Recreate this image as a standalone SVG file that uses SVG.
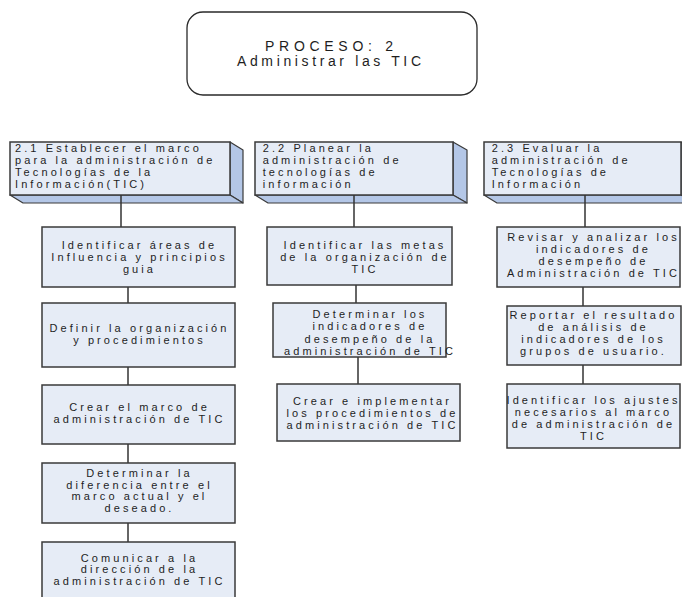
<svg xmlns="http://www.w3.org/2000/svg" width="682" height="597" viewBox="0 0 682 597">
<style>
.bg{fill:#ffffff}
.title{fill:#ffffff;stroke:#2a2a2a;stroke-width:1.3}
.box{fill:#E6ECF6;stroke:#3A3A3A;stroke-width:1.5}
.side{fill:#B4C7E7;stroke:#3A3A3A;stroke-width:1.2;stroke-linejoin:round}
.t{font-family:"Liberation Sans",Arial,sans-serif;font-size:11px;letter-spacing:3.1px;fill:#1E1E1E}
.tt{font-family:"Liberation Sans",Arial,sans-serif;font-size:14px;fill:#1E1E1E;text-anchor:middle}
.c{text-anchor:middle}
.conn{stroke:#333333;stroke-width:1.5;fill:none}
</style>
<rect class="bg" x="0" y="0" width="682" height="597"/>

<g id="proceso">
<rect class="title" x="187" y="12" width="290" height="83" rx="16" ry="16"/>
<text class="tt" x="329" y="50.7" textLength="128" lengthAdjust="spacing">PROCESO: 2</text>
<text class="tt" x="329" y="65.5" textLength="184" lengthAdjust="spacing">Administrar las TIC</text>
</g>

<g id="h21">
<polygon class="side" points="230,142 243,150 243,203 230,195"/>
<polygon class="side" points="10,195 23,203 243,203 230,195"/>
<rect class="box" x="10" y="142" width="220" height="53"/>
<text class="t" x="15" y="151.7">2.1 Establecer el marco</text>
<text class="t" x="15" y="164">para la administración de</text>
<text class="t" x="15" y="176">Tecnologías de la</text>
<text class="t" x="15" y="188">Información(TIC)</text>
</g>

<g id="h22">
<polygon class="side" points="453,142 467,150 467,203 453,195"/>
<polygon class="side" points="255,195 268,203 467,203 453,195"/>
<rect class="box" x="255" y="142" width="198" height="53"/>
<text class="t" x="262.7" y="151.7">2.2 Planear la</text>
<text class="t" x="262.7" y="164">administración de</text>
<text class="t" x="262.7" y="176">tecnologías de</text>
<text class="t" x="262.7" y="188">información</text>
</g>

<g id="h23">
<polygon class="side" points="681,142 695,150 695,203 681,195"/>
<polygon class="side" points="484,195 497,203 695,203 681,195"/>
<rect class="box" x="484" y="142" width="197" height="53"/>
<text class="t" x="491.7" y="151.7">2.3 Evaluar la</text>
<text class="t" x="491.7" y="164">administración de</text>
<text class="t" x="491.7" y="176">Tecnologías de</text>
<text class="t" x="491.7" y="188">Información</text>
</g>

<g id="connectors">
<line class="conn" x1="121" y1="195" x2="121" y2="227"/>
<line class="conn" x1="128" y1="287" x2="128" y2="303"/>
<line class="conn" x1="128" y1="367" x2="128" y2="385"/>
<line class="conn" x1="128" y1="444" x2="128" y2="463"/>
<line class="conn" x1="128" y1="523" x2="128" y2="542"/>
<line class="conn" x1="354" y1="195" x2="354" y2="227"/>
<line class="conn" x1="356" y1="285" x2="356" y2="303"/>
<line class="conn" x1="358" y1="357" x2="358" y2="384"/>
<line class="conn" x1="585" y1="195" x2="585" y2="227"/>
<line class="conn" x1="583" y1="287" x2="583" y2="306"/>
<line class="conn" x1="583" y1="365" x2="583" y2="384"/>
</g>

<g id="c1b1">
<rect class="box" x="42" y="227" width="193" height="60"/>
<text class="t c" x="139.5" y="249.3">Identificar áreas de</text>
<text class="t c" x="139.5" y="261">Influencia y principios</text>
<text class="t c" x="139.5" y="272.7">guia</text>
</g>
<g id="c1b2">
<rect class="box" x="42" y="303" width="193" height="64"/>
<text class="t c" x="139.5" y="331.7">Definir la organización</text>
<text class="t c" x="139.5" y="344">y procedimientos</text>
</g>
<g id="c1b3">
<rect class="box" x="42" y="385" width="193" height="59"/>
<text class="t c" x="139.5" y="410.7">Crear el marco de</text>
<text class="t c" x="139.5" y="422.9">administración de TIC</text>
</g>
<g id="c1b4">
<rect class="box" x="42" y="463" width="193" height="60"/>
<text class="t c" x="139.5" y="476.7">Determinar la</text>
<text class="t c" x="139.5" y="488.5">diferencia entre el</text>
<text class="t c" x="139.5" y="500.3">marco actual y el</text>
<text class="t c" x="139.5" y="512.3">deseado.</text>
</g>
<g id="c1b5">
<rect class="box" x="42" y="542" width="193" height="58"/>
<text class="t c" x="139.5" y="561.5">Comunicar a la</text>
<text class="t c" x="139.5" y="573.4">dirección de la</text>
<text class="t c" x="139.5" y="585.3">administración de TIC</text>
</g>

<g id="c2b1">
<rect class="box" x="267" y="227" width="185" height="58"/>
<text class="t c" x="365" y="249.3">Identificar las metas</text>
<text class="t c" x="365" y="261">de la organización de</text>
<text class="t c" x="365" y="272.7">TIC</text>
</g>
<g id="c2b2">
<rect class="box" x="273" y="303" width="173" height="54"/>
<text class="t c" x="370" y="318.3">Determinar los</text>
<text class="t c" x="370" y="330.3">indicadores de</text>
<text class="t c" x="370" y="342.6">desempeño de la</text>
<text class="t c" x="370" y="355">administración de TIC</text>
</g>
<g id="c2b3">
<rect class="box" x="277" y="384" width="183" height="57"/>
<text class="t c" x="372.5" y="405">Crear e implementar</text>
<text class="t c" x="372.5" y="416.8">los procedimientos de</text>
<text class="t c" x="372.5" y="428.6">administración de TIC</text>
</g>

<g id="c3b1">
<rect class="box" x="497" y="227" width="183" height="60"/>
<text class="t c" x="593.5" y="240.7">Revisar y analizar los</text>
<text class="t c" x="593.5" y="252.9">indicadores de</text>
<text class="t c" x="593.5" y="265.1">desempeño de</text>
<text class="t c" x="593.5" y="277.3">Administración de TIC</text>
</g>
<g id="c3b2">
<rect class="box" x="507" y="306" width="174" height="59"/>
<text class="t c" x="593.5" y="319.3">Reportar el resultado</text>
<text class="t c" x="593.5" y="331.2">de análisis de</text>
<text class="t c" x="593.5" y="343.2">indicadores de los</text>
<text class="t c" x="593.5" y="355.2">grupos de usuario.</text>
</g>
<g id="c3b3">
<rect class="box" x="507" y="384" width="173" height="64"/>
<text class="t c" x="593.5" y="404">Identificar los ajustes</text>
<text class="t c" x="593.5" y="416.1">necesarios al marco</text>
<text class="t c" x="593.5" y="428.2">de administración de</text>
<text class="t c" x="593.5" y="440.3">TIC</text>
</g>
</svg>
